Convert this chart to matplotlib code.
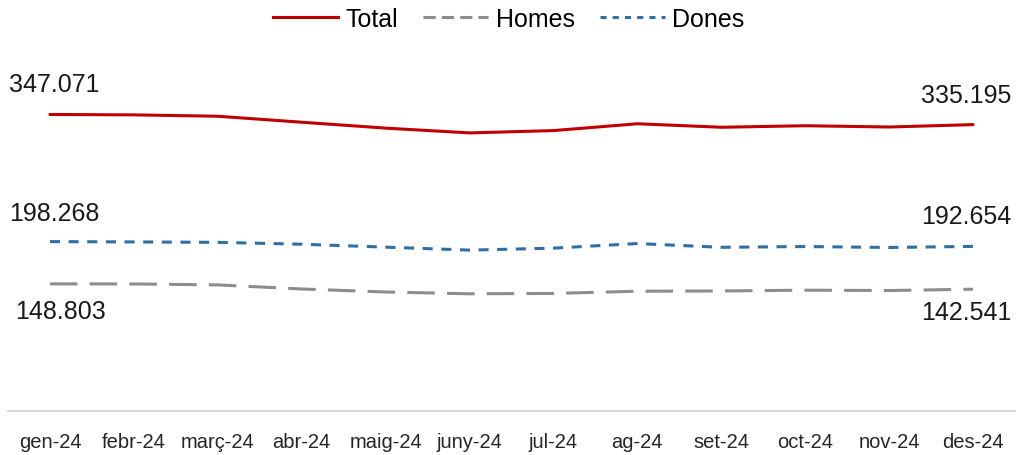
import matplotlib.pyplot as plt
from matplotlib.lines import Line2D

mesos = ["gen-24", "febr-24", "març-24", "abr-24", "maig-24", "juny-24",
         "jul-24", "ag-24", "set-24", "oct-24", "nov-24", "des-24"]
homes = [148803, 148700, 147600, 142800, 139300, 137200,
         137600, 140200, 140500, 141400, 141000, 142541]
dones = [198268, 197900, 197400, 195200, 191800, 188300,
         190600, 196000, 191600, 192500, 191400, 192654]
total = [347071, 346600, 345000, 338000, 331100, 325500,
         328200, 336200, 332100, 333900, 332400, 335195]

plt.rcParams['font.family'] = ['Liberation Sans', 'DejaVu Sans']

fig = plt.figure(figsize=(10.18, 4.56), dpi=100)
ax = fig.add_axes([8 / 1018, 1 - 412 / 456, 1007 / 1018, 352 / 456])

x = list(range(len(mesos)))
ax.plot(x, total, color='#c00000', lw=2.2, solid_capstyle='round')
ax.plot(x, homes, color='#8c8c8c', lw=2.2, linestyle=(0, (9, 4)))
ax.plot(x, dones, color='#2e6fa7', lw=2.2, linestyle=(0, (3.3, 2.8)))

ax.set_xlim(-0.5, 11.5)
ax.set_ylim(0, 412000)
ax.set_yticks([])
for s in ['top', 'left', 'right']:
    ax.spines[s].set_visible(False)
ax.spines['bottom'].set_color('#d9d9d9')
ax.spines['bottom'].set_linewidth(1.5)
ax.set_xticks(x)
ax.set_xticklabels(mesos, fontsize=14.5, color='#262626')
ax.tick_params(axis='x', length=0, pad=15)


def etiqueta(i, serie, dx, dy):
    txt = f"{serie[i]:,}".replace(',', '.')
    ax.annotate(txt, (i, serie[i]), xytext=(dx, dy), textcoords='offset pixels',
                ha='center', va='center', fontsize=18, color='#1a1a1a')


etiqueta(0, total, 4, 30)
etiqueta(0, dones, 4, 29)
etiqueta(0, homes, 11, -27)
etiqueta(11, total, -7, 30)
etiqueta(11, dones, -7, 30)
etiqueta(11, homes, -7, -23)

handles = [Line2D([], [], color='#c00000', lw=2.2),
           Line2D([], [], color='#8c8c8c', lw=2.2, linestyle=(0, (4, 2))),
           Line2D([], [], color='#2e6fa7', lw=2.2, linestyle=(0, (2, 2)))]
fig.legend(handles, ['Total', 'Homes', 'Dones'], loc='center', ncol=3,
           bbox_to_anchor=(0.5, 1 - 20 / 456), frameon=False, fontsize=18,
           handlelength=2.6, handletextpad=0.3, columnspacing=1.0)

fig.savefig('out.png', dpi=100)
